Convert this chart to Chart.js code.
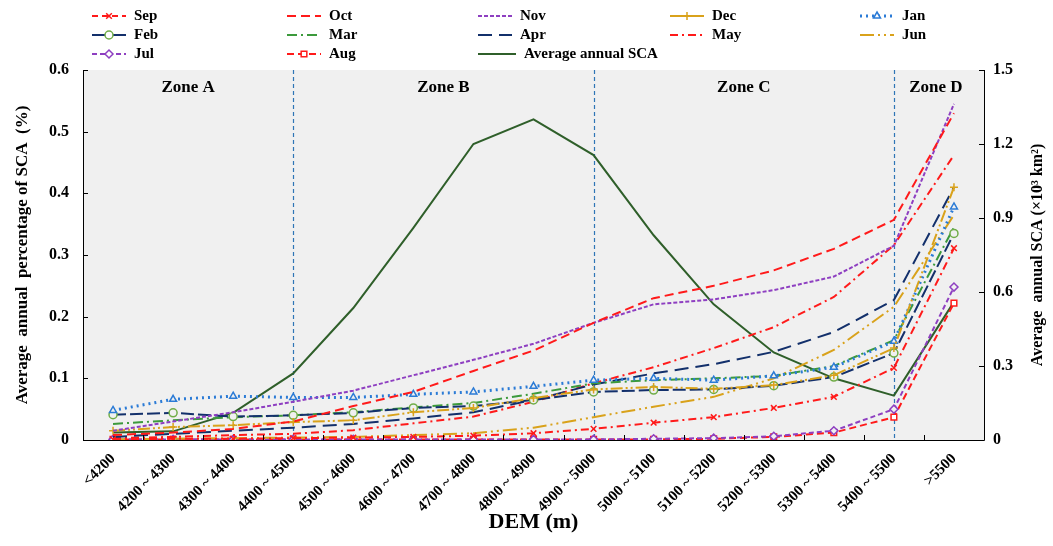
<!DOCTYPE html>
<html>
<head>
<meta charset="utf-8">
<script src="https://cdn.jsdelivr.net/npm/chart.js@4.4.1/dist/chart.umd.min.js"></script>
<style>
  html, body { margin: 0; padding: 0; background: #fff; }
  #wrap { width: 1053px; height: 546px; }
</style>
</head>
<body>
<div id="wrap"><canvas id="chart" width="1053" height="546"></canvas></div>
<script>
// DEM bands (x categories)
const demBands = ["<4200", "4200 ~ 4300", "4300 ~ 4400", "4400 ~ 4500", "4500 ~ 4600",
  "4600 ~ 4700", "4700 ~ 4800", "4800 ~ 4900", "4900 ~ 5000", "5000 ~ 5100",
  "5100 ~ 5200", "5200 ~ 5300", "5300 ~ 5400", "5400 ~ 5500", ">5500"];

// average annual percentage of SCA (%) per month
const sep = [0.001, 0.002, 0.002, 0.003, 0.004, 0.005, 0.007, 0.011, 0.018, 0.028, 0.037, 0.052, 0.070, 0.117, 0.311];
const oct = [0.008, 0.012, 0.018, 0.030, 0.055, 0.078, 0.112, 0.145, 0.190, 0.230, 0.250, 0.275, 0.310, 0.357, 0.530];
const nov = [0.015, 0.030, 0.045, 0.062, 0.080, 0.105, 0.130, 0.156, 0.190, 0.220, 0.228, 0.243, 0.265, 0.315, 0.545];
const dec = [0.015, 0.021, 0.024, 0.029, 0.032, 0.045, 0.052, 0.068, 0.082, 0.086, 0.083, 0.089, 0.105, 0.149, 0.410];
const jan = [0.048, 0.066, 0.071, 0.069, 0.069, 0.074, 0.078, 0.087, 0.097, 0.100, 0.097, 0.104, 0.118, 0.160, 0.378];
const feb = [0.041, 0.044, 0.038, 0.040, 0.044, 0.052, 0.055, 0.065, 0.078, 0.081, 0.082, 0.088, 0.102, 0.141, 0.335];
const mar = [0.026, 0.032, 0.037, 0.040, 0.045, 0.053, 0.060, 0.075, 0.092, 0.097, 0.100, 0.104, 0.120, 0.162, 0.345];
const apr = [0.005, 0.010, 0.015, 0.020, 0.026, 0.035, 0.045, 0.065, 0.090, 0.108, 0.123, 0.143, 0.175, 0.227, 0.410];
const may = [0.003, 0.005, 0.008, 0.010, 0.016, 0.027, 0.038, 0.062, 0.092, 0.118, 0.149, 0.183, 0.232, 0.316, 0.462];
const jun = [0.001, 0.002, 0.003, 0.004, 0.005, 0.008, 0.011, 0.020, 0.037, 0.054, 0.070, 0.100, 0.146, 0.216, 0.365];
const jul = [0.001, 0.001, 0.001, 0.001, 0.001, 0.001, 0.001, 0.001, 0.001, 0.002, 0.003, 0.006, 0.015, 0.050, 0.248];
const aug = [0.001, 0.001, 0.001, 0.001, 0.001, 0.001, 0.001, 0.001, 0.001, 0.001, 0.002, 0.005, 0.012, 0.037, 0.222];

// average annual SCA (x10^3 km2), right axis
const avgSCA = [0.03, 0.035, 0.11, 0.27, 0.535, 0.86, 1.2, 1.3, 1.155, 0.83, 0.55, 0.355, 0.25, 0.18, 0.56];

const zoneNames = ["Zone A", "Zone B", "Zone C", "Zone D"];
const zoneBreaks = ["4400 ~ 4500", "4900 ~ 5000", "5400 ~ 5500"];

const SERIF = '"Liberation Serif", "Times New Roman", serif';

function month(label, data, color, dash, marker, fill, legendDash) {
  return {
    label: label, data: data, yAxisID: 'y',
    borderColor: color, borderWidth: 2, borderDash: dash, legendDash: legendDash,
    tension: 0, fill: false,
    pointStyle: marker || 'circle', pointRadius: marker ? 4 : 0, pointHoverRadius: 0,
    pointBorderColor: color, pointBackgroundColor: fill || 'rgba(0,0,0,0)', pointBorderWidth: 1.5
  };
}

const RED = '#ff1a1a', PURPLE = '#8e3fc1', GOLD = '#d9a21b', NAVY = '#13306b';

const datasets = [
  month('Sep', sep, RED, [8, 4, 2, 4], 'crossRot', null, [6, 4]),
  month('Oct', oct, RED, [9, 5]),
  month('Nov', nov, PURPLE, [4, 2]),
  month('Dec', dec, GOLD, [12, 3, 2, 3, 2, 3], 'cross', null, []),
  month('Jan', jan, '#2b7bd6', [2, 4], 'triangle', '#f0f0f0'),
  month('Feb', feb, NAVY, [13, 4], 'circle', '#f0f0f0', []),
  month('Mar', mar, '#3c9a3c', [10, 4, 2, 4]),
  month('Apr', apr, NAVY, [14, 7]),
  month('May', may, RED, [8, 4, 2, 4]),
  month('Jun', jun, GOLD, [14, 4, 2, 4, 2, 4]),
  month('Jul', jul, PURPLE, [5, 3], 'rectRot', '#f0f0f0'),
  month('Aug', aug, RED, [7, 4], 'rect', '#ffffff'),
  {
    label: 'Average annual SCA', data: avgSCA, yAxisID: 'y1',
    borderColor: '#2f5f2a', borderWidth: 2, tension: 0, fill: false,
    pointRadius: 0, pointHoverRadius: 0
  }
];
datasets[4].borderWidth = 3;
datasets[4].pointBorderColor = '#2b7bd6';
datasets[5].pointBorderColor = '#70ad47';

const decorPlugin = {
  id: 'decor',
  beforeDraw(chart) {
    const { ctx, chartArea: a } = chart;
    ctx.save();
    ctx.fillStyle = '#fff';
    ctx.fillRect(0, 0, chart.width, chart.height);
    ctx.fillStyle = '#f0f0f0';
    ctx.fillRect(a.left, a.top, a.right - a.left, a.bottom - a.top);
    ctx.restore();
  },
  beforeDatasetsDraw(chart) {
    const { ctx, chartArea: a, scales } = chart;
    ctx.save();
    ctx.strokeStyle = '#2e75b6';
    ctx.lineWidth = 1.2;
    ctx.setLineDash([4, 3]);
    zoneBreaks.forEach(b => {
      const x = Math.round(scales.x.getPixelForValue(demBands.indexOf(b))) + 0.5;
      ctx.beginPath(); ctx.moveTo(x, a.top); ctx.lineTo(x, a.bottom); ctx.stroke();
    });
    ctx.restore();
  },
  afterDraw(chart) {
    const { ctx, chartArea: a, scales } = chart;
    ctx.save();
    // axes
    ctx.strokeStyle = '#000';
    ctx.lineWidth = 1;
    ctx.setLineDash([]);
    ctx.beginPath();
    ctx.moveTo(a.left + 0.5, a.top); ctx.lineTo(a.left + 0.5, a.bottom + 0.5);
    ctx.lineTo(a.right + 0.5, a.bottom + 0.5); ctx.lineTo(a.right + 0.5, a.top);
    ctx.stroke();
    // inward tick marks
    ctx.beginPath();
    scales.y.ticks.forEach(t => {
      const y = Math.round(scales.y.getPixelForValue(t.value)) + 0.5;
      ctx.moveTo(a.left, y); ctx.lineTo(a.left + 5, y);
    });
    scales.y1.ticks.forEach(t => {
      const y = Math.round(scales.y1.getPixelForValue(t.value)) + 0.5;
      ctx.moveTo(a.right, y); ctx.lineTo(a.right - 5, y);
    });
    const step = (a.right - a.left) / demBands.length;
    for (let i = 1; i < demBands.length; i++) {
      const x = Math.round(a.left + i * step) + 0.5;
      ctx.moveTo(x, a.bottom); ctx.lineTo(x, a.bottom - 5);
    }
    ctx.stroke();

    // zone labels
    const edges = [a.left].concat(zoneBreaks.map(b => scales.x.getPixelForValue(demBands.indexOf(b))), [a.right]);
    ctx.fillStyle = '#000';
    ctx.font = 'bold 17px ' + SERIF;
    ctx.textAlign = 'center';
    ctx.textBaseline = 'middle';
    zoneNames.forEach((z, i) => ctx.fillText(z, (edges[i] + edges[i + 1]) / 2 + (i === 3 ? -3 : 0), a.top + 18));

    // right axis title (reads bottom to top)
    ctx.save();
    ctx.translate(1038, (a.top + a.bottom) / 2);
    ctx.rotate(-Math.PI / 2);
    ctx.font = 'bold 16px ' + SERIF;
    ctx.fillText('Average  annual SCA (×10³ km²)', 0, 0);
    ctx.restore();

    // legend grid
    const colX = [92, 287, 478, 670, 860];
    const rowY = [16, 35, 54];
    chart.data.datasets.forEach((ds, i) => {
      const x0 = colX[i % 5], y = rowY[Math.floor(i / 5)];
      const len = i === 12 ? 38 : 34;
      ctx.save();
      ctx.strokeStyle = ds.borderColor;
      ctx.lineWidth = ds.borderWidth;
      ctx.setLineDash(ds.legendDash || ds.borderDash || []);
      ctx.beginPath(); ctx.moveTo(x0, y); ctx.lineTo(x0 + len, y); ctx.stroke();
      if (ds.pointRadius > 0) {
        ctx.setLineDash([]);
        ctx.fillStyle = ds.pointBackgroundColor === 'rgba(0,0,0,0)' ? '#fff' : '#fff';
        ctx.strokeStyle = ds.pointBorderColor;
        ctx.lineWidth = ds.pointBorderWidth;
        Chart.helpers.drawPoint(ctx, { pointStyle: ds.pointStyle, radius: ds.pointRadius, rotation: 0, borderWidth: ds.pointBorderWidth }, x0 + len / 2, y);
      }
      ctx.fillStyle = '#000';
      ctx.font = 'bold 15px ' + SERIF;
      ctx.textAlign = 'left';
      ctx.textBaseline = 'middle';
      ctx.fillText(ds.label, x0 + len + 8, y);
      ctx.restore();
    });
    ctx.restore();
  }
};

new Chart(document.getElementById('chart'), {
  type: 'line',
  data: { labels: demBands, datasets: datasets },
  options: {
    responsive: false,
    devicePixelRatio: 1,
    animation: false,
    layout: { padding: { top: 70, left: 0, right: 0, bottom: 0 } },
    plugins: { legend: { display: false }, tooltip: { enabled: false } },
    scales: {
      x: {
        type: 'category',
        offset: true,
        grid: { display: false, drawTicks: false },
        border: { display: false },
        ticks: {
          autoSkip: false, minRotation: 45, maxRotation: 45, padding: 10,
          color: '#000', font: { family: SERIF, size: 15, weight: 'bold' }
        },
        title: {
          display: true, text: 'DEM (m)', color: '#000',
          font: { family: SERIF, size: 22, weight: 'bold' }, padding: { top: 0, bottom: 10 }
        },
        afterFit(s) { s.height = 106; }
      },
      y: {
        position: 'left', min: 0, max: 0.6,
        grid: { display: false, drawTicks: false },
        border: { display: false },
        ticks: {
          stepSize: 0.1, padding: 14, color: '#000',
          font: { family: SERIF, size: 16, weight: 'bold' },
          callback: v => v === 0 ? '0' : v.toFixed(1)
        },
        title: {
          display: true, text: 'Average  annual  percentage of SCA  (%)', color: '#000',
          font: { family: SERIF, size: 17, weight: 'bold' }, padding: { top: 12, bottom: 0 }
        },
        afterFit(s) { s.width = 83; }
      },
      y1: {
        position: 'right', min: 0, max: 1.5,
        grid: { display: false, drawTicks: false },
        border: { display: false },
        ticks: {
          stepSize: 0.3, padding: 9, color: '#000',
          font: { family: SERIF, size: 16, weight: 'bold' },
          callback: v => v === 0 ? '0' : v.toFixed(1)
        },
        afterFit(s) { s.width = 69; }
      }
    }
  },
  plugins: [decorPlugin]
});
</script>
</body>
</html>
